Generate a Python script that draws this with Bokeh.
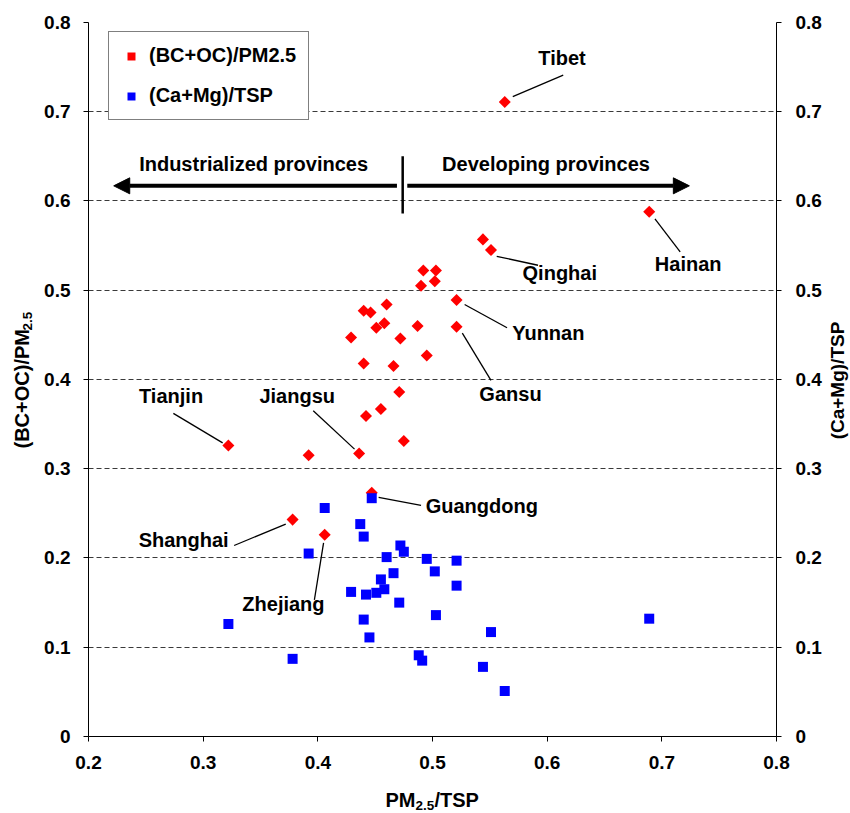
import numpy as np
from bokeh.plotting import figure
from bokeh.models import (LinearAxis, FixedTicker, Legend, LegendItem,
                          Arrow, NormalHead, Label)
from bokeh.core.properties import value
from bokeh.embed import file_html
from bokeh.resources import INLINE

# ---------------- data ----------------
# (BC+OC)/PM2.5 vs PM2.5/TSP  (red diamonds)
pm_tsp_red = [0.563, 0.689, 0.544, 0.551, 0.492, 0.503, 0.490, 0.502, 0.521, 0.460,
              0.440, 0.446, 0.458, 0.451, 0.487, 0.521, 0.429, 0.472, 0.495, 0.440,
              0.466, 0.471, 0.455, 0.442, 0.392, 0.436, 0.475, 0.447, 0.378, 0.406,
              0.322]
bcoc_pm25 = [0.711, 0.588, 0.557, 0.545, 0.522, 0.522, 0.505, 0.510, 0.489, 0.484,
             0.477, 0.475, 0.463, 0.458, 0.460, 0.459, 0.447, 0.446, 0.427, 0.418,
             0.415, 0.386, 0.367, 0.359, 0.315, 0.317, 0.331, 0.273, 0.243, 0.226,
             0.326]

# (Ca+Mg)/TSP vs PM2.5/TSP  (blue squares)
pm_tsp_blue = [0.447, 0.406, 0.437, 0.440, 0.392, 0.472, 0.475, 0.460, 0.495, 0.521,
               0.502, 0.466, 0.455, 0.458, 0.521, 0.429, 0.442, 0.451, 0.471, 0.503,
               0.440, 0.551, 0.445, 0.378, 0.488, 0.491, 0.544, 0.563, 0.689, 0.322]
camg_tsp = [0.267, 0.256, 0.238, 0.224, 0.205, 0.214, 0.207, 0.201, 0.199, 0.197,
            0.185, 0.183, 0.176, 0.165, 0.169, 0.162, 0.159, 0.161, 0.150, 0.136,
            0.131, 0.117, 0.111, 0.087, 0.091, 0.085, 0.078, 0.051, 0.132, 0.126]

x_ticks = [0.2, 0.3, 0.4, 0.5, 0.6, 0.7, 0.8]
x_tick_labels = ["0.2", "0.3", "0.4", "0.5", "0.6", "0.7", "0.8"]
y_ticks = [0.0, 0.1, 0.2, 0.3, 0.4, 0.5, 0.6, 0.7, 0.8]
y_tick_labels = ["0", "0.1", "0.2", "0.3", "0.4", "0.5", "0.6", "0.7", "0.8"]
grid_ticks = [0.1, 0.2, 0.3, 0.4, 0.5, 0.6, 0.7]

legend_labels = ["(BC+OC)/PM2.5", "(Ca+Mg)/TSP"]

# province annotations (text position and leader line)
prov_names = ["Tibet", "Hainan", "Qinghai", "Yunnan", "Gansu", "Tianjin",
              "Jiangsu", "Guangdong", "Shanghai", "Zhejiang"]
prov_tx = [0.613, 0.723, 0.611, 0.601, 0.568, 0.272, 0.382, 0.543, 0.283, 0.370]
prov_ty = [0.760, 0.529, 0.519, 0.452, 0.384, 0.381, 0.381, 0.258, 0.220, 0.148]
lead_x0 = [0.614, 0.716, 0.592, 0.565, 0.551, 0.274, 0.396, 0.490, 0.327, 0.397]
lead_y0 = [0.741, 0.543, 0.528, 0.458, 0.399, 0.362, 0.365, 0.259, 0.214, 0.153]
lead_x1 = [0.570, 0.694, 0.556, 0.528, 0.526, 0.317, 0.432, 0.453, 0.372, 0.405]
lead_y1 = [0.717, 0.580, 0.538, 0.484, 0.452, 0.329, 0.322, 0.268, 0.238, 0.217]

group_names = ["Industrialized provinces", "Developing provinces"]

FONT = "Liberation Sans"

# visible plot area is x 0.2..0.8, y 0..0.8; the view extends a little
# beyond so that the axis titles (with real subscripts) fit on the canvas
X_VIEW = (0.12326, 0.86453)
Y_VIEW = (-0.08628, 0.82465)

# ---------------- figure ----------------
p = figure(width=850, height=813, x_range=X_VIEW, y_range=Y_VIEW,
           output_backend="svg", toolbar_location=None, min_border=0)
p.outline_line_color = None
p.background_fill_color = "white"
p.border_fill_color = "white"

p.xgrid.visible = False
p.ygrid.ticker = FixedTicker(ticks=grid_ticks)
p.ygrid.bounds = (0.0, 0.8)
p.ygrid.cross_bounds = (0.2, 0.8)
p.ygrid.grid_line_color = "#3a3a3a"
p.ygrid.grid_line_dash = "5 3"
p.ygrid.grid_line_width = 1

right_axis = LinearAxis(fixed_location=0.8)
p.add_layout(right_axis, "right")
p.xaxis[0].fixed_location = 0.0
p.yaxis[0].fixed_location = 0.2

def style_axis(ax, ticks, labels, standoff, bounds):
    ax.ticker = FixedTicker(ticks=ticks)
    ax.bounds = bounds
    ax.major_label_overrides = {t: l for t, l in zip(ticks, labels)}
    ax.major_label_text_font = FONT
    ax.major_label_text_font_size = "19px"
    ax.major_label_text_font_style = "bold"
    ax.major_label_text_color = "black"
    ax.axis_line_color = "black"
    ax.axis_line_width = 1
    ax.major_tick_line_color = "black"
    ax.major_tick_out = 5
    ax.major_tick_in = 0
    ax.minor_tick_line_color = None
    ax.major_label_standoff = standoff

style_axis(p.xaxis[0], x_ticks, x_tick_labels, 15, (0.2, 0.8))
style_axis(p.yaxis[0], y_ticks, y_tick_labels, 13, (0.0, 0.8))
style_axis(right_axis, y_ticks, y_tick_labels, 14, (0.0, 0.8))

# ---------------- points ----------------
r_red = p.scatter(pm_tsp_red, bcoc_pm25, marker="square", angle=np.pi / 4,
                  size=8.5, fill_color="#FF0000", line_color=None)
r_blue = p.scatter(pm_tsp_blue, camg_tsp, marker="square", size=10,
                   fill_color="#0000FF", line_color=None)

# ---------------- annotations ----------------
p.segment(x0=lead_x0, y0=lead_y0, x1=lead_x1, y1=lead_y1,
          line_color="black", line_width=1.3)
p.text(x=prov_tx, y=prov_ty, text=prov_names, text_font=value(FONT),
       text_font_size="20px", text_font_style="bold", text_color="black",
       text_align="center", text_baseline="middle")

# arrows
p.add_layout(Arrow(end=NormalHead(size=16, fill_color="black", line_color="black"),
                   x_start=0.469, y_start=0.617, x_end=0.222, y_end=0.617,
                   line_width=4, line_color="black"))
p.add_layout(Arrow(end=NormalHead(size=16, fill_color="black", line_color="black"),
                   x_start=0.478, y_start=0.617, x_end=0.724, y_end=0.617,
                   line_width=4, line_color="black"))
p.segment(x0=[0.474], y0=[0.586], x1=[0.474], y1=[0.650],
          line_color="black", line_width=2.5)
p.text(x=[0.344, 0.599], y=[0.642, 0.642], text=group_names,
       text_font=value(FONT), text_font_size="20px", text_font_style="bold",
       text_color="black", text_align="center", text_baseline="middle")

# ---------------- axis titles (with subscripts) ----------------
def lab(x, y, text, size="20px", angle=0.0, align="left"):
    p.add_layout(Label(x=x, y=y, text=text, angle=angle, text_font=FONT,
                       text_font_size=size, text_font_style="bold",
                       text_color="black", text_align=align,
                       text_baseline="middle"))

# bottom: PM2.5/TSP
lab(0.4590, -0.0717, "PM")
lab(0.4852, -0.0773, "2.5", size="13.5px")
lab(0.5017, -0.0717, "/TSP")
# left: (BC+OC)/PM2.5
lab(0.14244, 0.32269, "(BC+OC)/PM", angle=np.pi / 2)
lab(0.14680, 0.45490, "2.5", size="13.5px", angle=np.pi / 2)
# right: (Ca+Mg)/TSP
lab(0.85320, 0.39888, "(Ca+Mg)/TSP", size="19px", angle=np.pi / 2, align="center")

# ---------------- legend ----------------
legend = Legend(items=[LegendItem(label=legend_labels[0], renderers=[r_red]),
                       LegendItem(label=legend_labels[1], renderers=[r_blue])],
                location=(108, 693))
legend.label_text_font = FONT
legend.label_text_font_size = "20px"
legend.label_text_font_style = "bold"
legend.label_text_color = "black"
legend.glyph_width = 20
legend.glyph_height = 20
legend.label_height = 20
legend.label_standoff = 8
legend.spacing = 17
legend.padding = 12
legend.margin = 0
legend.border_line_color = "black"
legend.border_line_width = 1
legend.background_fill_color = "white"
legend.background_fill_alpha = 1.0
p.add_layout(legend)

open("out.html", "w").write(file_html(p, INLINE))
